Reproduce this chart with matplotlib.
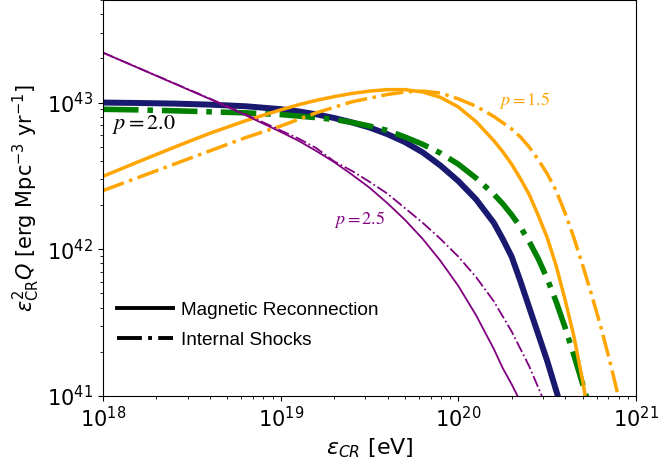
import numpy as np
import matplotlib
matplotlib.use('Agg')
import matplotlib.pyplot as plt

# values: log10(E_CR / eV) and log10(E^2 Q / erg Mpc^-3 yr^-1)

# p = 2.0, magnetic reconnection
mr20_x = [18.0, 18.2, 18.4, 18.6, 18.8, 19.0, 19.1, 19.2, 19.3, 19.4, 19.5, 19.6, 19.7, 19.8, 19.9, 20.0,
          20.1, 20.2, 20.25, 20.3, 20.35, 20.4, 20.45, 20.5, 20.55, 20.58]
mr20_y = [43.0, 42.997, 42.993, 42.986, 42.975, 42.955, 42.94, 42.92, 42.895, 42.865, 42.83, 42.785, 42.73, 42.66, 42.57, 42.465,
          42.34, 42.18, 42.07, 41.95, 41.78, 41.60, 41.42, 41.24, 41.04, 40.92]
# p = 2.0, internal shocks
is20_x = [18.0, 18.2, 18.4, 18.6, 18.8, 19.0, 19.1, 19.2, 19.3, 19.4, 19.5, 19.6, 19.7, 19.8, 19.9, 20.0,
          20.1, 20.2, 20.25, 20.3, 20.35, 20.4, 20.45, 20.5, 20.55, 20.6, 20.65, 20.7, 20.73]
is20_y = [42.954, 42.95, 42.944, 42.937, 42.93, 42.918, 42.908, 42.897, 42.885, 42.865, 42.84, 42.81, 42.765, 42.715, 42.655, 42.58,
          42.485, 42.375, 42.31, 42.235, 42.15, 42.05, 41.935, 41.80, 41.645, 41.47, 41.28, 41.08, 40.96]

# p = 1.5
mr15_x = [18.0, 18.2, 18.4, 18.6, 18.8, 19.0, 19.1, 19.2, 19.3, 19.4, 19.5, 19.6, 19.7, 19.8, 19.9, 20.0,
          20.1, 20.2, 20.25, 20.3, 20.35, 20.4, 20.45, 20.5, 20.55, 20.6, 20.65, 20.7, 20.72]
mr15_y = [42.497, 42.597, 42.695, 42.79, 42.875, 42.95, 42.985, 43.015, 43.04, 43.062, 43.078, 43.088, 43.088, 43.072, 43.035, 42.97,
          42.87, 42.74, 42.665, 42.58, 42.48, 42.37, 42.23, 42.08, 41.89, 41.66, 41.41, 41.1, 40.96]
is15_x = [18.0, 18.2, 18.4, 18.6, 18.8, 19.0, 19.2, 19.4, 19.6, 19.7, 19.8, 19.9, 20.0, 20.1, 20.2,
          20.3, 20.35, 20.4, 20.45, 20.5, 20.55, 20.6, 20.65, 20.7, 20.75, 20.8, 20.85, 20.9]
is15_y = [42.40, 42.49, 42.58, 42.67, 42.76, 42.84, 42.93, 43.005, 43.055, 43.072, 43.078, 43.065, 43.025, 42.975, 42.905,
          42.82, 42.765, 42.695, 42.61, 42.515, 42.40, 42.25, 42.08, 41.89, 41.69, 41.48, 41.25, 41.0]

# p = 2.5
mr25_x = [18.0, 18.2, 18.4, 18.6, 18.8, 19.0, 19.1, 19.2, 19.3, 19.4, 19.5, 19.6, 19.7, 19.8, 19.9, 20.0,
          20.1, 20.2, 20.25, 20.3, 20.35]
mr25_y = [43.34, 43.235, 43.13, 43.025, 42.915, 42.80, 42.74, 42.67, 42.595, 42.51, 42.42, 42.315, 42.2, 42.07, 41.92, 41.75,
          41.55, 41.32, 41.19, 41.08, 40.96]
is25_x = [18.0, 18.2, 18.4, 18.6, 18.8, 19.0, 19.1, 19.2, 19.3, 19.4, 19.5, 19.6, 19.7, 19.8, 19.9, 20.0,
          20.1, 20.2, 20.3, 20.4, 20.47]
is25_y = [43.34, 43.236, 43.132, 43.028, 42.922, 42.81, 42.755, 42.69, 42.60, 42.535, 42.46, 42.38, 42.28, 42.18, 42.07, 41.95,
          41.81, 41.645, 41.44, 41.2, 41.0]

def lin(v):
    return 10 ** np.array(v)

fig = plt.figure(figsize=(6.58, 4.66), dpi=100)
ax = fig.add_axes([103 / 658, 70 / 466, 533 / 658, 396 / 466])

ax.plot(lin(mr20_x), lin(mr20_y), color='midnightblue', ls='-', lw=4.3)
ax.plot(lin(is20_x), lin(is20_y), color='green', ls='-.', lw=4.0)
ax.plot(lin(mr15_x), lin(mr15_y), color='orange', ls='-', lw=2.5)
ax.plot(lin(is15_x), lin(is15_y), color='orange', ls='-.', lw=2.5)
ax.plot(lin(mr25_x), lin(mr25_y), color='purple', ls='-', lw=1.3)
ax.plot(lin(is25_x), lin(is25_y), color='purple', ls='-.', lw=1.3)

# legend handles only
ax.plot([], [], color='k', ls='-', lw=2.8, label='Magnetic Reconnection')
ax.plot([], [], color='k', ls='-.', lw=2.8, label='Internal Shocks')

ax.text(10 ** 18.05, 10 ** 42.853, '$p = 2.0$', fontsize=16, color='k',
        ha='left', va='center', math_fontfamily='stix')
ax.text(10 ** 20.375, 10 ** 43.017, '$p = 1.5$', fontsize=13, color='orange',
        ha='center', va='center', math_fontfamily='stix')
ax.text(10 ** 19.446, 10 ** 42.206, '$p = 2.5$', fontsize=13, color='purple',
        ha='center', va='center', math_fontfamily='stix')

ax.set_xscale('log')
ax.set_yscale('log')
ax.set_xlim(1e18, 1e21)
ax.set_ylim(1e41, 5e43)
ax.tick_params(labelsize=15)
ax.set_xlabel(r'$\varepsilon_{CR}$ [eV]', fontsize=16)
ax.set_ylabel(r'$\varepsilon^2_{\rm CR}Q$ [erg Mpc$^{-3}$ yr$^{-1}$]', fontsize=15)

ax.legend(loc='center left', bbox_to_anchor=(0.012, 0.179), borderaxespad=0,
          frameon=False, handlelength=2.95, handletextpad=0.42, labelspacing=0.67,
          prop={'family': 'Liberation Sans', 'size': 13.7})

fig.savefig('out.png', dpi=100)
